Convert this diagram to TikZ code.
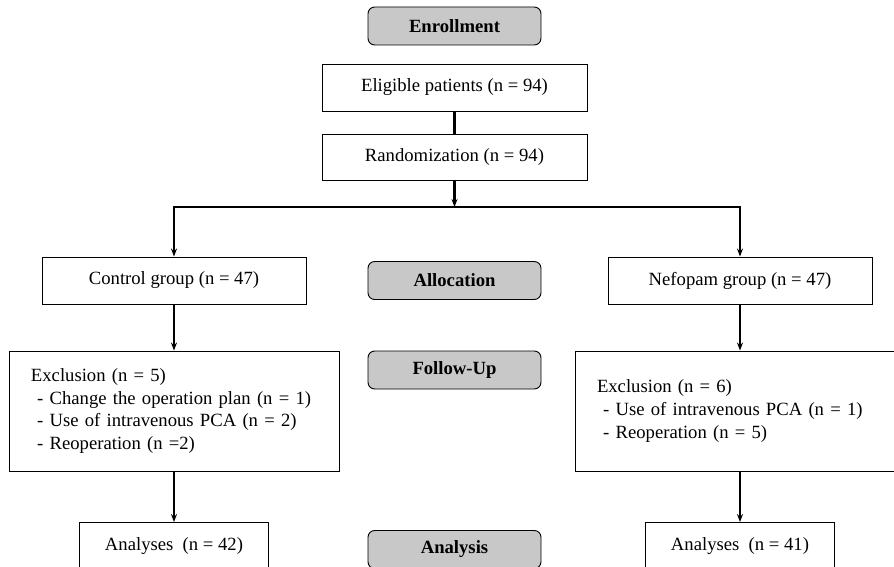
\documentclass[tikz,border=0pt]{standalone}
\usepackage{fontspec}
\setmainfont{Liberation Serif}
\usetikzlibrary{arrows.meta}

\definecolor{phasegray}{RGB}{200,200,200}

\tikzset{
  box/.style={draw, line width=0.7pt, fill=white, inner sep=0pt, font=\fontsize{14}{17}\selectfont},
  phase/.style={draw, line width=0.7pt, rounded corners=5pt, fill=phasegray, minimum width=129.75pt, minimum height=28.5pt, font=\fontsize{14}{17}\selectfont\bfseries},
  link/.style={line width=1.6pt},
  flow/.style={link, -{Stealth[length=6pt, width=4.5pt]}},
}

\begin{document}
\begin{tikzpicture}[x=0.75pt, y=-0.75pt]
    \def\xl{174}
    \def\xm{454.5}
    \def\xr{740}

    \useasboundingbox (0,0) rectangle (894,567);
    \clip (0,0) rectangle (894,567);
    \fill[white] (0,0) rectangle (894,567);

    % Phase labels down the middle
    \node[phase] (enroll) at (\xm,26) {Enrollment};
    \node[phase] (alloc) at (\xm,280.5) {Allocation};
    \node[phase] (follow) at (\xm,370) {Follow-Up};
    \node[phase] (analysis) at (\xm,549.5) {Analysis};

    % Enrollment
    \node[box, minimum width=198.75pt, minimum height=35.25pt] (elig) at (\xm,87.5) {Eligible patients (n = 94)};
    \node[box, minimum width=198.75pt, minimum height=34.5pt] (rand) at (\xm,157) {Randomization (n = 94)};

    % Allocation
    \node[box, minimum width=198pt, minimum height=35.25pt] (ctrl) at (\xl,280.5) {Control group (n = 47)};
    \node[box, minimum width=198pt, minimum height=35.25pt] (nefo) at (\xr,280.5) {Nefopam group (n = 47)};

    % Follow-up
    \node[box, minimum height=90pt, inner xsep=16.5pt, text width=214.5pt, align=left] (exclL) at (\xl,411)
        {Exclusion (n = 5)\\
         \ - Change the operation plan (n = 1)\\
         \ - Use of intravenous PCA (n = 2)\\
         \ - Reoperation (n =2)};
    \node[box, minimum height=90pt, inner xsep=16.5pt, text width=214.5pt, align=left] (exclR) at (\xr,411)
        {Exclusion (n = 6)\\
         \ - Use of intravenous PCA (n = 1)\\
         \ - Reoperation (n = 5)};

    % Analysis (cut off at the bottom)
    \node[box, minimum width=141.75pt, minimum height=35.25pt] (anaL) at (\xl,546) {Analyses\ \ (n = 42)};
    \node[box, minimum width=141.75pt, minimum height=35.25pt] (anaR) at (\xr,546) {Analyses\ \ (n = 41)};

    % Connectors
    \coordinate (split) at (\xm,207);
    \draw[link] (elig) -- (rand);
    \draw[flow] (rand) -- (split);
    \draw[link, line cap=rect] (split -| ctrl) -- (split -| nefo);
    \draw[flow] (split -| ctrl) -- (ctrl);
    \draw[flow] (split -| nefo) -- (nefo);
    \draw[flow] (ctrl) -- (exclL);
    \draw[flow] (nefo) -- (exclR);
    \draw[flow] (exclL) -- (anaL);
    \draw[flow] (exclR) -- (anaR);
\end{tikzpicture}
\end{document}
